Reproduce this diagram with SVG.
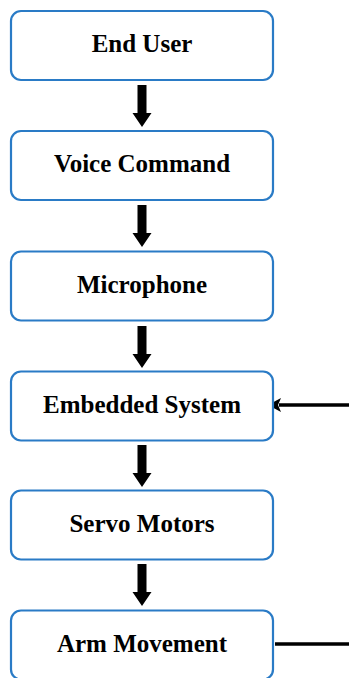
<svg xmlns="http://www.w3.org/2000/svg" width="349" height="678" viewBox="0 0 349 678">
<style>
.box{fill:#fff;stroke:#2a7bc6;stroke-width:2.2}
.lbl{font-family:"Liberation Serif","Times New Roman",serif;font-weight:bold;font-size:25px;fill:#000;text-anchor:middle}
.arr{fill:#000}
.ln{stroke:#000;stroke-width:3.5;fill:none}
</style>
<rect width="349" height="678" fill="#fff"/>
<g id="connectors">
<path class="arr" d="M137.5,85 h9 v28 h5 l-9.5,14 l-9.5,-14 h5 z"/>
<path class="arr" d="M137.5,205 h9 v28 h5 l-9.5,14 l-9.5,-14 h5 z"/>
<path class="arr" d="M137.5,326 h9 v28 h5 l-9.5,14 l-9.5,-14 h5 z"/>
<path class="arr" d="M137.5,445 h9 v28 h5 l-9.5,14 l-9.5,-14 h5 z"/>
<path class="arr" d="M137.5,564 h9 v28 h5 l-9.5,14 l-9.5,-14 h5 z"/>
<line class="ln" x1="275" y1="644" x2="349" y2="644"/>
<line class="ln" x1="349" y1="405" x2="279" y2="405"/>
<path class="arr" d="M268,405 l13,-7 l-3,7 l3,7 z"/>
</g>
<g id="end-user"><rect class="box" x="11" y="11" width="262" height="69" rx="10"/><text class="lbl" x="142" y="52">End User</text></g>
<g id="voice-command"><rect class="box" x="11" y="131" width="262" height="69" rx="10"/><text class="lbl" x="142" y="172">Voice Command</text></g>
<g id="microphone"><rect class="box" x="11" y="251.5" width="262" height="69" rx="10"/><text class="lbl" x="142" y="292.5">Microphone</text></g>
<g id="embedded-system"><rect class="box" x="11" y="371.5" width="262" height="69" rx="10"/><text class="lbl" x="142" y="412.5">Embedded System</text></g>
<g id="servo-motors"><rect class="box" x="11" y="490.5" width="262" height="69" rx="10"/><text class="lbl" x="142" y="531.5">Servo Motors</text></g>
<g id="arm-movement"><rect class="box" x="11" y="610.5" width="262" height="69" rx="10"/><text class="lbl" x="142" y="651.5">Arm Movement</text></g>
</svg>
